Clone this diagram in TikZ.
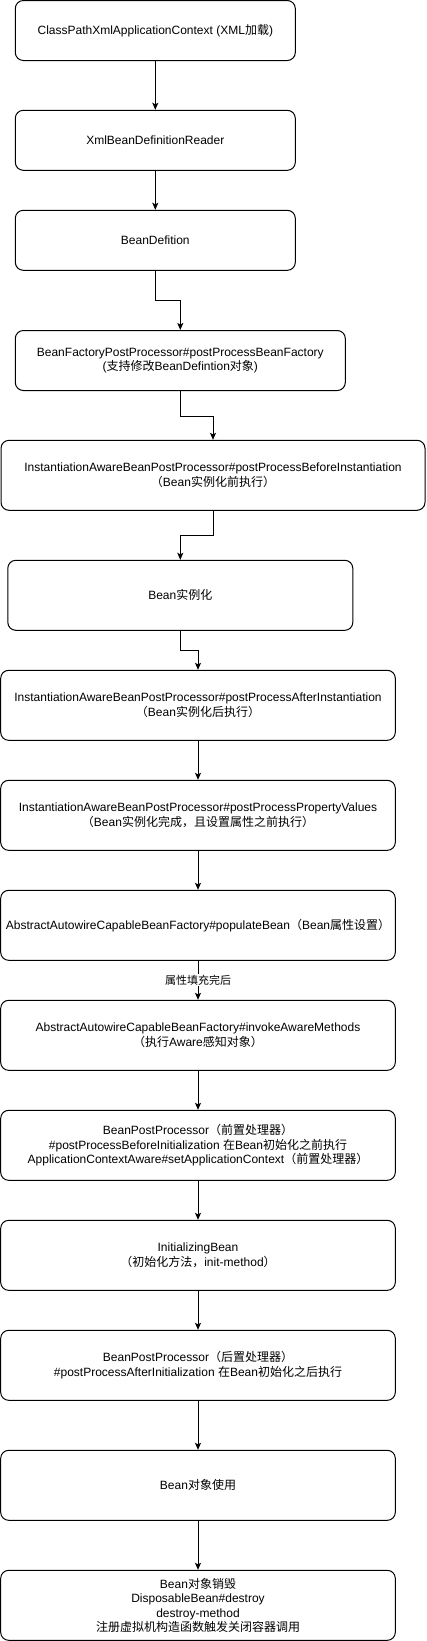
\documentclass[tikz,border=0pt]{standalone}
\usepackage{fontspec}
\setmainfont{Liberation Sans}
\newfontfamily\cjk{Noto Sans CJK SC}
\newcommand{\zh}[1]{{\cjk #1}}
\usetikzlibrary{arrows.meta, calc}
\tikzset{
  block/.style={rectangle, rounded corners=8pt, draw=black, line width=1pt, fill=white,
    minimum width=280pt, minimum height=60pt, align=center, inner sep=2pt,
    font=\fontsize{12}{14.5}\selectfont},
  blocktall/.style={block, minimum height=70pt},
  arrow/.style={-{Stealth[length=7pt, width=6pt, inset=1.5pt]}, line width=1pt, black},
  edgelabel/.style={font=\fontsize{11}{13}\selectfont\cjk, fill=white, inner sep=1pt},
}

\begin{document}
\begin{tikzpicture}[x=1pt, y=-1pt]
\useasboundingbox (0,0) rectangle (426,1641);

% loading and definitions
\node[block] (xml) at (155.3,30.5) {ClassPathXmlApplicationContext (XML\zh{加载})};
\node[block] (reader) at (155.3,140.3) {XmlBeanDefinitionReader};
\node[block] (beandef) at (155.3,240.3) {BeanDefition};
\node[block, minimum width=330pt] (factorypp) at (180.3,360.5)
  {BeanFactoryPostProcessor\#postProcessBeanFactory\\(\zh{支持修改}BeanDefintion\zh{对象})};

% instantiation
\node[blocktall, minimum width=424pt] (beforeinst) at (213,475.3)
  {InstantiationAwareBeanPostProcessor\#postProcessBeforeInstantiation\\\zh{（}Bean\zh{实例化前执行）}};
\node[blocktall, minimum width=345pt] (inst) at (180.3,595.3) {Bean\zh{实例化}};
\node[blocktall, minimum width=394.6pt] (afterinst) at (198,705.3)
  {InstantiationAwareBeanPostProcessor\#postProcessAfterInstantiation\\\zh{（}Bean\zh{实例化后执行）}};
\node[blocktall, minimum width=394.6pt] (propvalues) at (198,815.3)
  {InstantiationAwareBeanPostProcessor\#postProcessPropertyValues\\\zh{（}Bean\zh{实例化完成，且设置属性之前执行）}};

% properties and initialization
\node[blocktall, minimum width=394.6pt] (populate) at (198,925.3)
  {AbstractAutowireCapableBeanFactory\#populateBean\zh{（}Bean\zh{属性设置）}};
\node[blocktall, minimum width=394.6pt] (aware) at (198,1035.3)
  {AbstractAutowireCapableBeanFactory\#invokeAwareMethods\\\zh{（执行}Aware\zh{感知对象）}};
\node[blocktall, minimum width=394.6pt] (beforeinit) at (198,1145.3)
  {BeanPostProcessor\zh{（前置处理器）}\\\#postProcessBeforeInitialization \zh{在}Bean\zh{初始化之前执行}\\ApplicationContextAware\#setApplicationContext\zh{（前置处理器）}};
\node[blocktall, minimum width=394.6pt] (init) at (198,1255.3)
  {InitializingBean\\\zh{（初始化方法，}init-method\zh{）}};
\node[blocktall, minimum width=394.6pt] (afterinit) at (198,1365.3)
  {BeanPostProcessor\zh{（后置处理器）}\\\#postProcessAfterInitialization \zh{在}Bean\zh{初始化之后执行}};

% use and destroy
\node[blocktall, minimum width=394.6pt] (use) at (198,1485.3) {Bean\zh{对象使用}};
\node[blocktall, minimum width=394.6pt] (destroy) at (198,1605.3)
  {Bean\zh{对象销毁}\\DisposableBean\#destroy\\destroy-method\\\zh{注册虚拟机构造函数触发关闭容器调用}};

% connectors
\draw[arrow] (xml) -- (reader);
\draw[arrow] (reader) -- (beandef);
\draw[arrow] (beandef.south) -- ++(0,30) -| (factorypp.north);
\draw[arrow] (factorypp.south) -- ++(0,25) -| (beforeinst.north);
\draw[arrow] (beforeinst.south) -- ++(0,25) -| (inst.north);
\draw[arrow] (inst.south) -- ++(0,20) -| (afterinst.north);
\draw[arrow] (afterinst) -- (propvalues);
\draw[arrow] (propvalues) -- (populate);
\draw[arrow] (populate) -- (aware) node[midway, edgelabel]{属性填充完后};
\draw[arrow] (aware) -- (beforeinit);
\draw[arrow] (beforeinit) -- (init);
\draw[arrow] (init) -- (afterinit);
\draw[arrow] (afterinit) -- (use);
\draw[arrow] (use) -- (destroy);
\end{tikzpicture}
\end{document}
